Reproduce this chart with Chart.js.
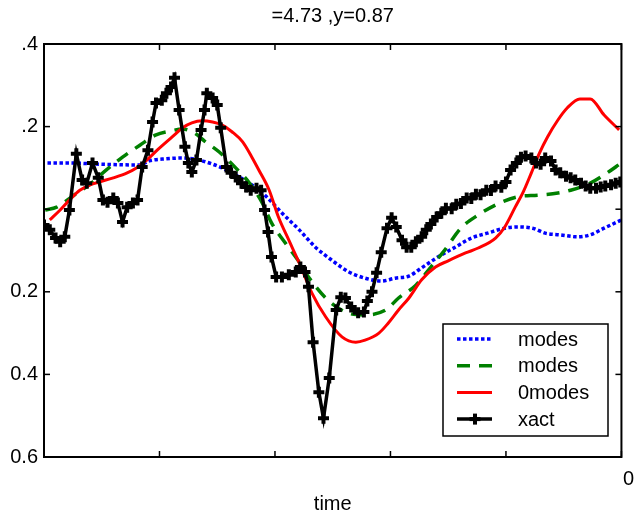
<!DOCTYPE html>
<html>
<head>
<meta charset="utf-8">
<script src="https://cdn.jsdelivr.net/npm/chart.js@4.4.1/dist/chart.umd.min.js"></script>
<style>
  html, body { margin: 0; padding: 0; background: #fff; }
</style>
</head>
<body>
<canvas id="myChart" width="637" height="521"></canvas>
<script>
// texts
const titleText = "=4.73 ,y=0.87";
const xTitle = "time";
const seriesNames = ["modes", "modes", "0modes", "xact"];
const xTickLabels = ["", "", "", "", "", "0"];
const yTickLabels = { "-4": ".4", "-2": ".2", "0": "", "2": "0.2", "4": "0.4", "6": "0.6" };

// blue dotted
const blueT = [0.03,0.22,0.48,0.83,0.91,1.06,1.20,1.34,1.46,1.58,1.69,1.80,1.92,2.06,2.21,2.35,2.49,2.64,2.78,2.92,3.04,3.16,3.27,3.41,3.56,3.70,3.84,3.99,4.10,4.23,4.34,4.47,4.62,4.73,4.85,5.00];
const blueV = [-0.112,-0.112,-0.109,-0.107,-0.117,-0.122,-0.124,-0.119,-0.109,-0.095,-0.078,-0.059,-0.032,0.009,0.050,0.092,0.123,0.152,0.167,0.174,0.167,0.162,0.142,0.116,0.092,0.070,0.058,0.046,0.043,0.046,0.058,0.062,0.067,0.062,0.046,0.026];

// green dashed
const greenT = [0.01,0.11,0.25,0.40,0.54,0.68,0.83,0.97,1.09,1.20,1.30,1.39,1.52,1.66,1.78,1.89,1.97,2.09,2.21,2.29,2.44,2.61,2.78,2.96,3.07,3.22,3.35,3.47,3.61,3.76,3.93,4.10,4.28,4.45,4.56,4.73,4.85,5.00];
const greenV = [0.002,-0.005,-0.032,-0.061,-0.095,-0.126,-0.155,-0.180,-0.189,-0.194,-0.185,-0.165,-0.138,-0.100,-0.063,-0.015,0.033,0.082,0.128,0.164,0.215,0.249,0.256,0.244,0.215,0.184,0.140,0.099,0.046,0.014,-0.013,-0.030,-0.034,-0.039,-0.046,-0.063,-0.083,-0.112];

// red solid
const redT = [0.05,0.14,0.22,0.31,0.40,0.48,0.60,0.72,0.80,0.89,0.98,1.11,1.20,1.28,1.37,1.46,1.54,1.63,1.72,1.80,1.86,1.95,2.03,2.12,2.21,2.32,2.44,2.58,2.70,2.78,2.90,2.98,3.07,3.16,3.27,3.39,3.50,3.65,3.76,3.91,3.99,4.08,4.15,4.22,4.29,4.36,4.45,4.53,4.64,4.73,4.85,4.98];
const redV = [0.026,0.002,-0.022,-0.046,-0.059,-0.066,-0.076,-0.088,-0.100,-0.119,-0.143,-0.175,-0.197,-0.209,-0.214,-0.211,-0.204,-0.187,-0.163,-0.126,-0.095,-0.046,0.019,0.075,0.130,0.203,0.261,0.309,0.322,0.317,0.300,0.276,0.244,0.215,0.171,0.140,0.125,0.106,0.094,0.070,0.043,-0.005,-0.042,-0.088,-0.136,-0.175,-0.216,-0.245,-0.267,-0.267,-0.228,-0.192];

// black with markers
const xactT = [0.00,0.05,0.10,0.14,0.18,0.22,0.28,0.33,0.37,0.42,0.47,0.51,0.55,0.60,0.64,0.68,0.72,0.77,0.81,0.85,
  0.90,0.94,0.97,1.02,1.06,1.10,1.13,1.17,1.22,1.25,1.28,1.32,1.36,1.39,1.41,1.46,1.50,1.53,1.58,1.62,
  1.66,1.71,1.75,1.79,1.84,1.88,1.91,1.94,1.97,2.01,2.06,2.12,2.18,2.22,2.26,2.29,2.33,2.38,2.42,2.47,
  2.53,2.57,2.61,2.66,2.72,2.77,2.80,2.84,2.88,2.92,2.97,3.01,3.05,3.10,3.14,3.18,3.22,3.27,3.31,3.35,
  3.40,3.44,3.48,3.53,3.57,3.61,3.66,3.70,3.74,3.78,3.83,3.87,3.91,3.96,4.00,4.04,4.09,4.13,4.17,4.22,
  4.26,4.30,4.34,4.39,4.43,4.47,4.52,4.56,4.60,4.65,4.69,4.73,4.78,4.82,4.86,4.91,4.95,4.99];
const xactV = [0.038,0.050,0.070,0.079,0.067,0.002,-0.134,-0.071,-0.063,-0.112,-0.076,-0.022,-0.017,-0.027,-0.015,0.031,-0.005,-0.015,-0.022,-0.102,
  -0.143,-0.211,-0.257,-0.264,-0.281,-0.296,-0.318,-0.240,-0.151,-0.112,-0.090,-0.119,-0.192,-0.240,-0.281,-0.269,-0.252,-0.197,-0.102,-0.088,
  -0.078,-0.063,-0.054,-0.046,-0.051,-0.046,0.002,0.055,0.116,0.164,0.164,0.159,0.152,0.140,0.152,0.188,0.322,0.443,0.506,0.409,
  0.244,0.213,0.215,0.237,0.251,0.249,0.222,0.200,0.154,0.104,0.046,0.021,0.043,0.075,0.092,0.092,0.079,0.067,0.050,0.036,
  0.019,0.010,-0.002,-0.001,-0.012,-0.014,-0.027,-0.026,-0.036,-0.035,-0.046,-0.045,-0.056,-0.053,-0.066,-0.095,-0.112,-0.126,-0.129,-0.124,
  -0.112,-0.109,-0.124,-0.117,-0.095,-0.088,-0.080,-0.076,-0.071,-0.063,-0.056,-0.051,-0.051,-0.054,-0.056,-0.059,-0.063,-0.066];

const fontFamily = "'Liberation Sans', Arial, Helvetica, sans-serif";
const font = { family: fontFamily, size: 20, weight: "normal" };

function pts(ts, vs) {
  return ts.map((t, i) => ({ x: t, y: vs[i] }));
}

const boxPlugin = {
  id: "box",
  beforeDraw(chart) {
    const c = chart.ctx;
    c.save();
    c.fillStyle = "#fff";
    c.fillRect(0, 0, chart.width, chart.height);
    c.restore();
  },
  afterDraw(chart) {
    const c = chart.ctx;
    const a = chart.chartArea;
    const xs = chart.scales.x;
    const ys = chart.scales.y;
    const tl = 6;
    const seg = (x1, y1, x2, y2) => { c.beginPath(); c.moveTo(x1, y1); c.lineTo(x2, y2); c.stroke(); };

    c.save();
    c.strokeStyle = "#000";
    c.lineWidth = 1.5;
    xs.ticks.forEach(t => {
      const px = xs.getPixelForValue(t.value);
      seg(px, a.bottom, px, a.bottom - tl);
      seg(px, a.top, px, a.top + tl);
    });
    ys.ticks.forEach(t => {
      const py = ys.getPixelForValue(t.value);
      seg(a.left, py, a.left + tl, py);
      seg(a.right, py, a.right - tl, py);
    });
    c.lineWidth = 2;
    c.strokeRect(a.left, a.top, a.right - a.left, a.bottom - a.top);

    // legend box
    const lx = 443, ly = 324, lw = 165, lh = 112;
    c.fillStyle = "#fff";
    c.fillRect(lx, ly, lw, lh);
    c.lineWidth = 1.5;
    c.strokeRect(lx, ly, lw, lh);
    chart.data.datasets.forEach((ds, i) => {
      const y = ly + 15 + i * 26.7;
      c.strokeStyle = ds.borderColor;
      c.lineWidth = ds.borderWidth;
      c.setLineDash(ds.borderDash || []);
      seg(457, y, 492, y);
      c.setLineDash([]);
      if (ds.pointRadius > 0) {
        c.lineWidth = ds.pointBorderWidth;
        seg(475 - ds.pointRadius, y, 475 + ds.pointRadius, y);
        seg(475, y - ds.pointRadius, 475, y + ds.pointRadius);
      }
      c.fillStyle = "#000";
      c.font = "20px " + fontFamily;
      c.textAlign = "left";
      c.textBaseline = "middle";
      c.fillText(ds.label, 518, y + 1);
    });
    c.restore();
  }
};

const ctx = document.getElementById("myChart").getContext("2d");

const config = {
  type: "line",
  data: {
    datasets: [
      {
        label: seriesNames[0],
        data: pts(blueT, blueV),
        borderColor: "#0000ff",
        borderWidth: 3.5,
        borderDash: [3.5, 2.5],
        pointRadius: 0,
        cubicInterpolationMode: "monotone",
        order: 3
      },
      {
        label: seriesNames[1],
        data: pts(greenT, greenV),
        borderColor: "#008000",
        borderWidth: 3.5,
        borderDash: [13, 9],
        pointRadius: 0,
        cubicInterpolationMode: "monotone",
        order: 2
      },
      {
        label: seriesNames[2],
        data: pts(redT, redV),
        borderColor: "#ff0000",
        borderWidth: 3,
        pointRadius: 0,
        cubicInterpolationMode: "monotone",
        order: 1
      },
      {
        label: seriesNames[3],
        data: pts(xactT, xactV),
        borderColor: "#000000",
        borderWidth: 3.5,
        pointStyle: "cross",
        pointRadius: 5.5,
        pointBorderWidth: 4,
        pointBorderColor: "#000000",
        tension: 0,
        order: 0
      }
    ]
  },
  options: {
    responsive: false,
    animation: false,
    devicePixelRatio: 1,
    layout: { padding: { top: 0, right: 13, bottom: 0, left: 0 } },
    plugins: {
      legend: { display: false },
      tooltip: { enabled: false },
      title: {
        display: true,
        text: titleText,
        fullSize: false,
        color: "#000",
        font: font,
        padding: { top: 4, bottom: 16 }
      }
    },
    scales: {
      x: {
        type: "linear",
        min: 0,
        max: 5,
        grid: { display: false, drawTicks: false },
        border: { display: false },
        ticks: {
          stepSize: 1,
          color: "#000",
          font: font,
          padding: 10,
          labelOffset: 7,
          maxRotation: 0,
          autoSkip: false,
          callback: (v, i) => xTickLabels[i]
        },
        title: { display: true, text: xTitle, color: "#000", font: font, padding: { top: 2, bottom: 5 } },
        afterFit: s => { s.height = 64; }
      },
      y: {
        min: -0.4,
        max: 0.6,
        reverse: true,
        grid: { display: false, drawTicks: false },
        border: { display: false },
        ticks: {
          stepSize: 0.2,
          color: "#000",
          font: font,
          padding: 6,
          autoSkip: false,
          callback: v => yTickLabels[Math.round(v * 10)]
        },
        afterFit: s => { s.width = 44; }
      }
    }
  },
  plugins: [boxPlugin]
};

const myChart = new Chart(ctx, config);
</script>
</body>
</html>
